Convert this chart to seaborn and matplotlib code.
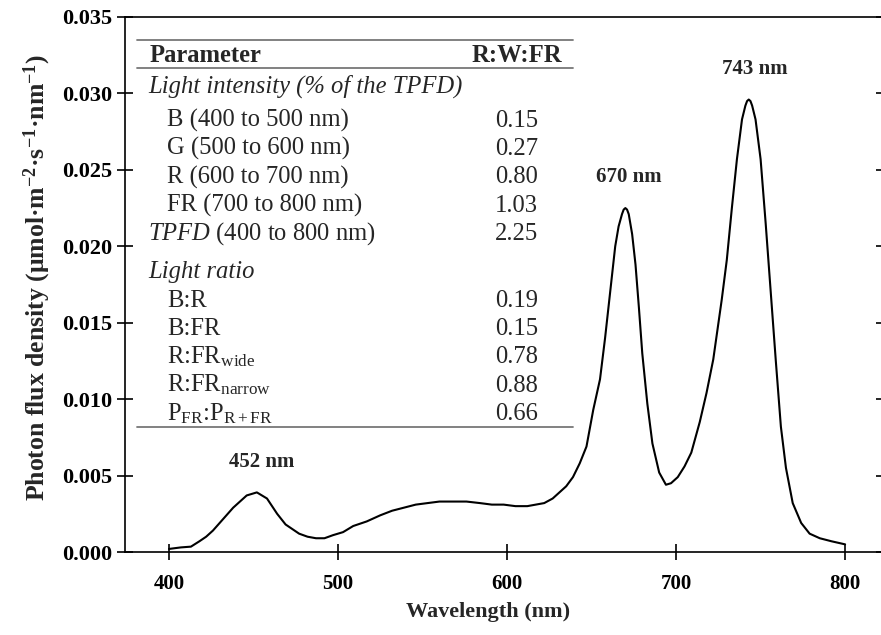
import matplotlib
matplotlib.use("Agg")
import matplotlib.pyplot as plt
import seaborn as sns
import pandas as pd

# ---------------- data ----------------
wavelength = [400, 407, 413, 418, 422, 426, 430, 434, 438, 442, 446, 449, 452, 455, 458,
              461, 464, 469, 473, 477, 482, 487, 492, 497, 503, 509, 517, 525, 532, 539,
              546, 553, 560, 568, 576, 584, 591, 598, 605, 612, 617, 622, 627, 631, 635,
              639, 643, 647, 651, 655, 658, 661, 664, 666, 668, 669, 670, 671, 672, 674,
              676, 678, 680, 683, 686, 690, 694, 697, 701, 705, 709, 714, 718, 722, 727,
              730, 733, 736, 739, 741, 742, 743, 744, 745, 747, 750, 753, 756, 759, 762,
              765, 769, 774, 779, 785, 792, 800]
pfd = [0.0002, 0.0003, 0.00035, 0.0007, 0.0010, 0.0014, 0.0019, 0.0024, 0.0029, 0.0033,
       0.0037, 0.0038, 0.0039, 0.0037, 0.0035, 0.0030, 0.0025, 0.0018, 0.0015, 0.0012,
       0.0010, 0.0009, 0.0009, 0.0011, 0.0013, 0.0017, 0.0020, 0.0024, 0.0027, 0.0029,
       0.0031, 0.0032, 0.0033, 0.0033, 0.0033, 0.0032, 0.0031, 0.0031, 0.0030, 0.0030,
       0.0031, 0.0032, 0.0035, 0.0039, 0.0043, 0.0049, 0.0058, 0.0069, 0.0093, 0.0113,
       0.0140, 0.0170, 0.0200, 0.0213, 0.0221, 0.0224, 0.0225, 0.0224, 0.0221, 0.0208,
       0.0188, 0.0160, 0.0130, 0.0097, 0.0071, 0.0052, 0.0044, 0.0045, 0.0049, 0.0056,
       0.0065, 0.0085, 0.0104, 0.0126, 0.0165, 0.0191, 0.0225, 0.0257, 0.0283, 0.0292,
       0.0295, 0.0296, 0.0295, 0.0292, 0.0283, 0.0257, 0.0215, 0.0170, 0.0125, 0.0082,
       0.0055, 0.0032, 0.0019, 0.0012, 0.0009, 0.0007, 0.0005]

peak_labels = ["452 nm", "670 nm", "743 nm"]
peak_wavelengths = [452, 670, 743]

x_ticks = [400, 500, 600, 700, 800]
y_ticks = [0.000, 0.005, 0.010, 0.015, 0.020, 0.025, 0.030, 0.035]

header_param = "Parameter"
header_value = "R:W:FR"
section_intensity = "Light intensity (% of the TPFD)"
intensity_labels = ["B (400 to 500 nm)", "G (500 to 600 nm)", "R (600 to 700 nm)",
                    "FR (700 to 800 nm)", r"$\mathit{TPFD}$ (400 to 800 nm)"]
intensity_values = ["0.15", "0.27", "0.80", "1.03", "2.25"]
section_ratio = "Light ratio"
ratio_labels = ["B:R", "B:FR", r"R:FR$_{\mathrm{wide}}$", r"R:FR$_{\mathrm{narrow}}$",
                r"P$_{\mathrm{FR}}$:P$_{\mathrm{R+FR}}$"]
ratio_values = ["0.19", "0.15", "0.78", "0.88", "0.66"]

# ---------------- style ----------------
sns.set_theme(style="ticks")
plt.rcParams["font.family"] = ["Liberation Serif", "DejaVu Serif"]
plt.rcParams["mathtext.fontset"] = "custom"
plt.rcParams["mathtext.rm"] = "Liberation Serif"
plt.rcParams["mathtext.it"] = "Liberation Serif:italic"
plt.rcParams["mathtext.bf"] = "Liberation Serif:bold"

W, H = 881, 635
fig = plt.figure(figsize=(W / 100, H / 100), dpi=100)
ax = fig.add_axes([125 / W, 1 - 552 / H, 759 / W, 535 / H])

df = pd.DataFrame({"Wavelength": wavelength, "PFD": pfd})
sns.lineplot(data=df, x="Wavelength", y="PFD", ax=ax, color="black", lw=1.5)

ax.set_xlim(374, 823)
ax.set_ylim(0, 0.035)
ax.set_xticks(x_ticks)
ax.set_yticks(y_ticks)
ax.set_xticklabels([str(t) for t in x_ticks], fontweight="bold", fontsize=15)
ax.set_yticklabels([f"{t:.3f}" for t in y_ticks], fontweight="bold", fontsize=16)
for s in ax.spines.values():
    s.set_color("black")
    s.set_linewidth(1.2)
ax.tick_params(axis="x", direction="inout", length=11, width=1.2, pad=10, colors="black")
ax.tick_params(axis="y", direction="inout", length=11, width=1.2, pad=4, colors="black",
               right=True)

ax.set_xlabel("Wavelength (nm)", fontsize=16, fontweight="bold")
ax.set_ylabel(r"Photon flux density (μmol·m$^{\mathbf{-2}}$·s$^{\mathbf{-1}}$·nm$^{\mathbf{-1}}$)",
              fontsize=18.5, fontweight="bold")
ax.xaxis.label.set_va("center")
ax.yaxis.label.set_va("center")
ax.xaxis.set_label_coords((488 - 125) / 759, (552 - 612) / 535)
ax.yaxis.set_label_coords((37 - 125) / 759, (552 - 278) / 535)

# peak annotations
peak_offsets = [(5, 30), (3, 31), (6, 31)]
for lab, wl, (dx, dy) in zip(peak_labels, peak_wavelengths, peak_offsets):
    i = wavelength.index(wl)
    ax.annotate(lab, (wavelength[i], pfd[i]), xytext=(dx, dy), textcoords="offset pixels",
                ha="center", va="center", fontsize=15, fontweight="bold")

# ---------------- table ----------------
def fx(px):
    return px / W

def fy(py):
    return 1 - py / H

tfs = 17.7
rule_kw = dict(color="#777777", lw=1.3, transform=fig.transFigure)
for py in (39.5, 68.3, 427.3):
    fig.add_artist(plt.Line2D([fx(137), fx(573)], [fy(py), fy(py)], **rule_kw))

fig.text(fx(150), fy(62.3), header_param, fontsize=tfs, fontweight="bold", va="baseline")
fig.text(fx(562), fy(62.3), header_value, fontsize=tfs, fontweight="bold", va="baseline",
         ha="right")
fig.text(fx(148), fy(92.3), section_intensity, fontsize=tfs, style="italic", va="baseline")

base_int = [126.7, 155.0, 183.3, 211.7, 240.0]
for k, (lab, val, py) in enumerate(zip(intensity_labels, intensity_values, base_int)):
    xx = 148 if k == 4 else 167
    fig.text(fx(xx), fy(py), lab, fontsize=tfs, va="baseline")
    fig.text(fx(495), fy(py), val, fontsize=tfs, va="baseline")

fig.text(fx(148), fy(278.3), section_ratio, fontsize=tfs, style="italic", va="baseline")
base_rat = [306.7, 335.0, 363.3, 391.7, 420.0]
for lab, val, py in zip(ratio_labels, ratio_values, base_rat):
    fig.text(fx(167), fy(py), lab, fontsize=tfs, va="baseline")
    fig.text(fx(495), fy(py), val, fontsize=tfs, va="baseline")

fig.savefig("out.png", dpi=100, facecolor="white")
